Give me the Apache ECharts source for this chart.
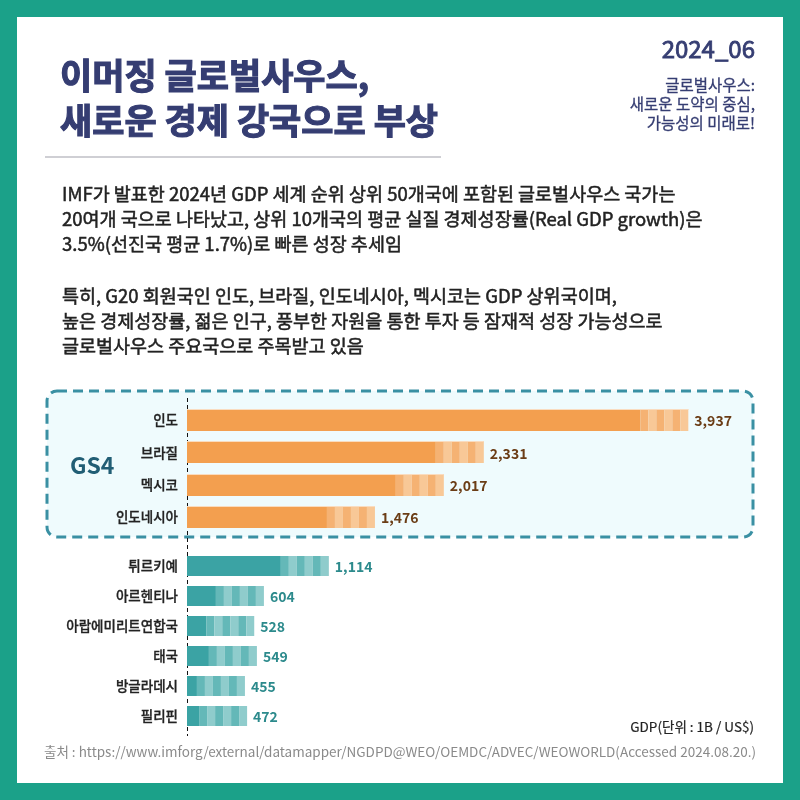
<!DOCTYPE html>
<html>
<head>
<meta charset="utf-8">
<script src="https://cdn.jsdelivr.net/npm/echarts@6/dist/echarts.min.js"></script>
<style>
html,body{margin:0;padding:0;background:#1ba189;}
#chart{width:800px;height:800px;}
</style>
</head>
<body>
<div id="chart"></div>
<script>
// ---- data ----
const gs4Countries = ['인도', '브라질', '멕시코', '인도네시아'];
const gs4Gdp = [3937, 2331, 2017, 1476];
const otherCountries = ['튀르키예', '아르헨티나', '아랍에미리트연합국', '태국', '방글라데시', '필리핀'];
const otherGdp = [1114, 604, 528, 549, 455, 472];

const titleLines = ['이머징 글로벌사우스,', '새로운 경제 강국으로 부상'];
const issueLabel = '2024_06';
const subtitleLines = ['글로벌사우스:', '새로운 도약의 중심,', '가능성의 미래로!'];
const para1 = [
  'IMF가 발표한 2024년 GDP 세계 순위 상위 50개국에 포함된 글로벌사우스 국가는',
  '20여개 국으로 나타났고, 상위 10개국의 평균 실질 경제성장률(Real GDP growth)은',
  '3.5%(선진국 평균 1.7%)로 빠른 성장 추세임'
];
const para2 = [
  '특히, G20 회원국인 인도, 브라질, 인도네시아, 멕시코는 GDP 상위국이며,',
  '높은 경제성장률, 젊은 인구, 풍부한 자원을 통한 투자 등 잠재적 성장 가능성으로',
  '글로벌사우스 주요국으로 주목받고 있음'
];
const groupLabel = 'GS4';
const unitLabel = 'GDP(단위 : 1B / US$)';
const sourceLabel = '출처 : https://www.imforg/external/datamapper/NGDPD@WEO/OEMDC/ADVEC/WEOWORLD(Accessed 2024.08.20.)';

// ---- styling ----
const FONT = '"Noto Sans CJK KR", "Noto Sans", sans-serif';
const NAVY = '#353d72';
const orange = {main: '#f39f4f', mid: '#f5b273', light: '#f8c897', edge: '#f9dcc0', label: '#6b3d16'};
const teal = {main: '#3ba3a4', mid: '#64b8b8', light: '#8fcccc', edge: null, label: '#2c8a8c'};

function fmt(v) { return v.toLocaleString('en-US'); }

function makeRender(c, ratio) {
  return function (params, api) {
    const v = api.value(0);
    const cat = api.value(1);
    const s = api.coord([0, cat]);
    const e = api.coord([v, cat]);
    const band = api.size([0, 1])[1];
    const h = Math.round(band * ratio);
    const y = Math.round(s[1] - h / 2);
    const stripeW = 8, n = 6;
    const solidEnd = e[0] - stripeW * n;
    const children = [];
    children.push({type: 'rect', shape: {x: s[0], y: y, width: solidEnd - s[0], height: h}, style: {fill: c.main}});
    for (let i = 0; i < n; i++) {
      children.push({type: 'rect', shape: {x: solidEnd + i * stripeW, y: y, width: stripeW, height: h},
        style: {fill: i % 2 === 0 ? c.mid : c.light}});
    }
    if (c.edge) {
      children.push({type: 'rect', shape: {x: s[0], y: y, width: e[0] - s[0], height: 1}, style: {fill: c.edge}});
    }
    children.push({type: 'text', style: {text: fmt(v), x: e[0] + 6, y: s[1] + 1, fill: c.label,
      fontSize: 14, fontWeight: 'bold', fontFamily: FONT, verticalAlign: 'middle', align: 'left'}});
    return {type: 'group', children: children};
  };
}

function txt(t, x, y, size, color, opts) {
  opts = opts || {};
  return {type: 'text', style: Object.assign({text: t, x: x, y: y, fill: color, fontSize: size,
    fontFamily: FONT, verticalAlign: 'middle'}, opts)};
}

const graphics = [];
// white card
graphics.push({type: 'rect', z: -10, shape: {x: 17, y: 17, width: 766, height: 766}, style: {fill: '#ffffff'}});
// dashed GS4 box
graphics.push({type: 'rect', z: -5, shape: {x: 47, y: 391, width: 706, height: 146, r: 10},
  style: {fill: '#effbfd', stroke: '#3a90a3', lineWidth: 3, lineDash: [10, 6]}});
// title
titleLines.forEach((t, i) => graphics.push(txt(t, 60, 76 + i * 45, 35, NAVY,
  {fontWeight: 'bold', stroke: NAVY, lineWidth: 1.2})));
// separator
graphics.push({type: 'rect', shape: {x: 45, y: 156, width: 396, height: 2}, style: {fill: '#cfcfd4'}});
// top right
graphics.push(txt(issueLabel, 755, 49, 24, NAVY, {align: 'right', stroke: NAVY, lineWidth: 0.8}));
subtitleLines.forEach((t, i) => graphics.push(txt(t, 755, 85 + i * 19, 15.5, NAVY,
  {align: 'right', stroke: NAVY, lineWidth: 0.3})));
// paragraphs
para1.forEach((t, i) => graphics.push(txt(t, 62, 194 + i * 25, 18.5, '#222', {stroke: '#222', lineWidth: 0.5})));
para2.forEach((t, i) => graphics.push(txt(t, 62, 296 + i * 25, 18.5, '#222', {stroke: '#222', lineWidth: 0.5})));
// GS4 label
graphics.push(txt(groupLabel, 70, 465, 23, '#215e75', {fontWeight: 'bold'}));
// axis dashed line spanning both groups
graphics.push({type: 'line', shape: {x1: 187.5, y1: 398, x2: 187.5, y2: 736}, style: {stroke: '#111', lineWidth: 1, lineDash: [4, 3]}});
// footer
graphics.push(txt(unitLabel, 754, 727, 13.5, '#222', {align: 'right', stroke: '#222', lineWidth: 0.2}));
graphics.push(txt(sourceLabel, 44, 752, 13.5, '#8a8a8a'));

const xMax = 4500;
const axisLabelStyle = {color: '#222', fontSize: 13.5, fontWeight: 500, margin: 9, fontFamily: FONT,
  textBorderColor: '#222', textBorderWidth: 0.3};
const option = {
  backgroundColor: '#1ba189',
  animation: false,
  textStyle: {fontFamily: FONT},
  graphic: graphics,
  grid: [
    {left: 187, width: 573, top: 404, height: 129},
    {left: 187, width: 573, top: 551, height: 180}
  ],
  xAxis: [
    {type: 'value', gridIndex: 0, min: 0, max: xMax, show: false},
    {type: 'value', gridIndex: 1, min: 0, max: xMax, show: false}
  ],
  yAxis: [
    {type: 'category', gridIndex: 0, data: gs4Countries, inverse: true,
      axisLine: {show: false}, axisTick: {show: false}, axisLabel: axisLabelStyle},
    {type: 'category', gridIndex: 1, data: otherCountries, inverse: true,
      axisLine: {show: false}, axisTick: {show: false}, axisLabel: axisLabelStyle}
  ],
  series: [
    {type: 'custom', xAxisIndex: 0, yAxisIndex: 0, renderItem: makeRender(orange, 0.68),
      encode: {x: 0, y: 1}, data: gs4Gdp.map((v, i) => [v, i])},
    {type: 'custom', xAxisIndex: 1, yAxisIndex: 1, renderItem: makeRender(teal, 0.667),
      encode: {x: 0, y: 1}, data: otherGdp.map((v, i) => [v, i])}
  ]
};
const chart = echarts.init(document.getElementById('chart'), null, {renderer: 'canvas'});
chart.setOption(option);
</script>
</body>
</html>
